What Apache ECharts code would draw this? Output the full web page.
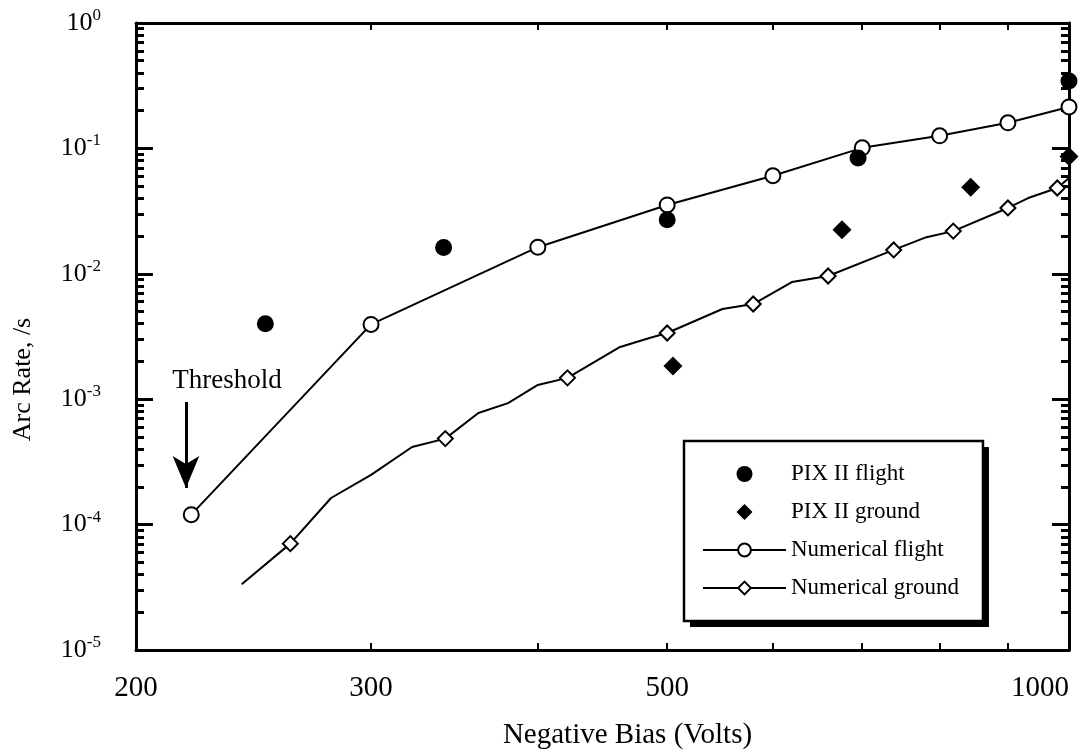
<!DOCTYPE html>
<html>
<head>
<meta charset="utf-8">
<script src="https://cdn.jsdelivr.net/npm/echarts@6/dist/echarts.min.js"></script>
<style>
  html, body { margin: 0; padding: 0; background: #fff; }
  #chart { width: 1090px; height: 755px; }
</style>
</head>
<body>
<div id="chart"></div>
<script>
// ---- tick values ----
var xLabelValues = [200, 300, 500, 1000];
var xMinorTicks = [300, 400, 500, 600, 700, 800, 900];
var yMajorTicks = [1e-5, 1e-4, 1e-3, 1e-2, 1e-1, 1];
var yMinorTicks = [
  2e-5, 3e-5, 4e-5, 5e-5, 6e-5, 7e-5, 8e-5, 9e-5,
  2e-4, 3e-4, 4e-4, 5e-4, 6e-4, 7e-4, 8e-4, 9e-4,
  2e-3, 3e-3, 4e-3, 5e-3, 6e-3, 7e-3, 8e-3, 9e-3,
  2e-2, 3e-2, 4e-2, 5e-2, 6e-2, 7e-2, 8e-2, 9e-2,
  0.2, 0.3, 0.4, 0.5, 0.6, 0.7, 0.8, 0.9
];

// ---- series data ----
var pixFlightX = [250, 340, 500, 695, 1000];
var pixFlightY = [4.0e-3, 1.62e-2, 2.7e-2, 8.4e-2, 0.345];

var pixGroundX = [505, 676, 844, 1000];
var pixGroundY = [1.84e-3, 2.25e-2, 4.9e-2, 8.6e-2];

var numFlightX = [220, 300, 400, 500, 600, 700, 800, 900, 1000];
var numFlightY = [1.2e-4, 3.95e-3, 1.63e-2, 3.54e-2, 6.05e-2, 0.101, 0.126, 0.16, 0.214];

var numGroundX = [240, 261, 280, 300, 322, 341, 361, 380, 400, 421, 461, 485, 500, 550, 580, 620, 660, 739, 782, 819, 900, 932, 980, 1000];
var numGroundY = [3.35e-5, 7.05e-5, 1.63e-4, 2.49e-4, 4.16e-4, 4.85e-4, 7.76e-4, 9.3e-4, 1.3e-3, 1.48e-3, 2.61e-3, 3.08e-3, 3.37e-3, 5.24e-3, 5.74e-3, 8.6e-3, 9.6e-3, 1.55e-2, 1.96e-2, 2.19e-2, 3.35e-2, 4.02e-2, 4.83e-2, 5.8e-2];
var numGroundMarked = [0, 1, 0, 0, 0, 1, 0, 0, 0, 1, 0, 0, 1, 0, 1, 0, 1, 1, 0, 1, 1, 0, 1, 0];

// ---- annotation ----
var thresholdArrowX = 218;
var thresholdArrowFrom = 9.5e-4;
var thresholdArrowTo = 1.96e-4;
var thresholdTextPos = [234, 1.4e-3];

var FONT = 'Liberation Serif, Times New Roman, serif';
var DIAMOND = 'path://M1,0L2,1L1,2L0,1Z';

function zip(xs, ys) { return xs.map(function (x, i) { return [x, ys[i]]; }); }

var groundData = numGroundX.map(function (x, i) {
  var item = { value: [x, numGroundY[i]] };
  if (!numGroundMarked[i]) { item.symbol = 'none'; }
  return item;
});

function yLabelFmt(v) {
  var e = Math.round(Math.log(v) / Math.LN10);
  return '{b|10}{s|' + e + '}';
}

var yRich = {
  b: { fontSize: 26, fontFamily: FONT, color: '#000', lineHeight: 32 },
  s: { fontSize: 17, fontFamily: FONT, color: '#000', lineHeight: 15, verticalAlign: 'top' }
};

function yAxisDef(pos, ticks, len, showLine, showLabel) {
  return {
    type: 'log', logBase: 10, min: 1e-5, max: 1, position: pos,
    axisLine: { show: showLine, lineStyle: { color: '#000', width: 3 } },
    axisTick: { show: true, inside: true, length: len, customValues: ticks, lineStyle: { color: '#000', width: 3 } },
    axisLabel: showLabel ? {
      show: true, customValues: yMajorTicks, formatter: yLabelFmt, rich: yRich, margin: 35
    } : { show: false },
    splitLine: { show: false },
    minorTick: { show: false },
    name: showLabel ? 'Arc Rate, /s' : '',
    nameLocation: 'middle', nameGap: 100,
    nameTextStyle: { fontSize: 26, fontFamily: FONT, color: '#000', padding: [0, 86, 0, 0] }
  };
}

var legendNames = ['PIX II flight', 'PIX II ground', 'Numerical flight', 'Numerical ground'];
var legendBase = {
  orient: 'vertical',
  padding: [21, 24, 21, 18],
  itemWidth: 83, itemHeight: 16, itemGap: 14,
  symbolKeepAspect: true,
  borderRadius: 0,
  data: legendNames
};

var chart = echarts.init(document.getElementById('chart'), null, { renderer: 'canvas' });
chart.setOption({
  backgroundColor: '#fff',
  animation: false,
  grid: { left: 136, right: 21, top: 23, bottom: 105 },
  xAxis: [
    {
      type: 'log', logBase: 10, min: 200, max: 1000, position: 'bottom',
      axisLine: { lineStyle: { color: '#000', width: 3 } },
      axisTick: { inside: true, length: 7, customValues: xMinorTicks, lineStyle: { color: '#000', width: 2 } },
      axisLabel: {
        customValues: xLabelValues, fontSize: 29, fontFamily: FONT, color: '#000', margin: 24,
        alignMaxLabel: 'right',
        formatter: function (v) { return String(Math.round(v)); }
      },
      splitLine: { show: false },
      name: 'Negative Bias (Volts)', nameLocation: 'middle', nameGap: 71,
      nameTextStyle: { fontSize: 29, fontFamily: FONT, color: '#000', padding: [0, 0, 0, 50] }
    },
    {
      type: 'log', logBase: 10, min: 200, max: 1000, position: 'top',
      axisLine: { lineStyle: { color: '#000', width: 3 } },
      axisTick: { inside: true, length: 7, customValues: xMinorTicks, lineStyle: { color: '#000', width: 2 } },
      axisLabel: { show: false },
      splitLine: { show: false }
    }
  ],
  yAxis: [
    yAxisDef('left', yMajorTicks, 17, true, true),
    yAxisDef('left', yMinorTicks, 8, false, false),
    yAxisDef('right', yMajorTicks, 17, true, false),
    yAxisDef('right', yMinorTicks, 8, false, false)
  ],
  legend: [
    Object.assign({}, legendBase, {
      left: 690, top: 447, z: 3,
      backgroundColor: '#000', borderWidth: 0,
      itemStyle: { color: '#000', borderColor: '#000' },
      lineStyle: { color: '#000' },
      textStyle: { fontSize: 23, fontFamily: FONT, color: '#000', lineHeight: 24 }
    }),
    Object.assign({}, legendBase, {
      left: 684, top: 441, z: 6,
      backgroundColor: '#fff', borderColor: '#000', borderWidth: 2.5,
      textStyle: { fontSize: 23, fontFamily: FONT, color: '#000', lineHeight: 24 }
    })
  ],
  series: [
    {
      name: 'PIX II flight', type: 'scatter', symbol: 'circle', symbolSize: 17,
      itemStyle: { color: '#000', opacity: 1 }, data: zip(pixFlightX, pixFlightY), z: 5
    },
    {
      name: 'PIX II ground', type: 'scatter', symbol: DIAMOND, symbolKeepAspect: true, symbolSize: 19,
      itemStyle: { color: '#000', opacity: 1 }, data: zip(pixGroundX, pixGroundY), z: 5
    },
    {
      name: 'Numerical flight', type: 'line', symbol: 'emptyCircle', symbolSize: 15,
      lineStyle: { color: '#000', width: 2 }, itemStyle: { color: '#000', borderWidth: 2 },
      data: zip(numFlightX, numFlightY), z: 4,
      markLine: {
        silent: true, symbol: ['none', 'arrow'], symbolSize: [20, 32],
        lineStyle: { color: '#000', width: 3, type: 'solid' },
        itemStyle: { color: '#000' },
        label: { show: false },
        data: [[{ coord: [thresholdArrowX, thresholdArrowFrom] }, { coord: [thresholdArrowX, thresholdArrowTo] }]]
      },
      markPoint: {
        silent: true, symbol: 'circle', symbolSize: 1,
        itemStyle: { color: 'rgba(0,0,0,0)' },
        label: { show: true, position: 'inside', formatter: 'Threshold', fontSize: 27, fontFamily: FONT, color: '#000' },
        data: [{ coord: thresholdTextPos }]
      }
    },
    {
      name: 'Numerical ground', type: 'line', symbol: 'emptyDiamond', symbolSize: 15,
      lineStyle: { color: '#000', width: 2 }, itemStyle: { color: '#000', borderWidth: 2 },
      data: groundData, z: 4
    }
  ]
});
</script>
</body>
</html>
